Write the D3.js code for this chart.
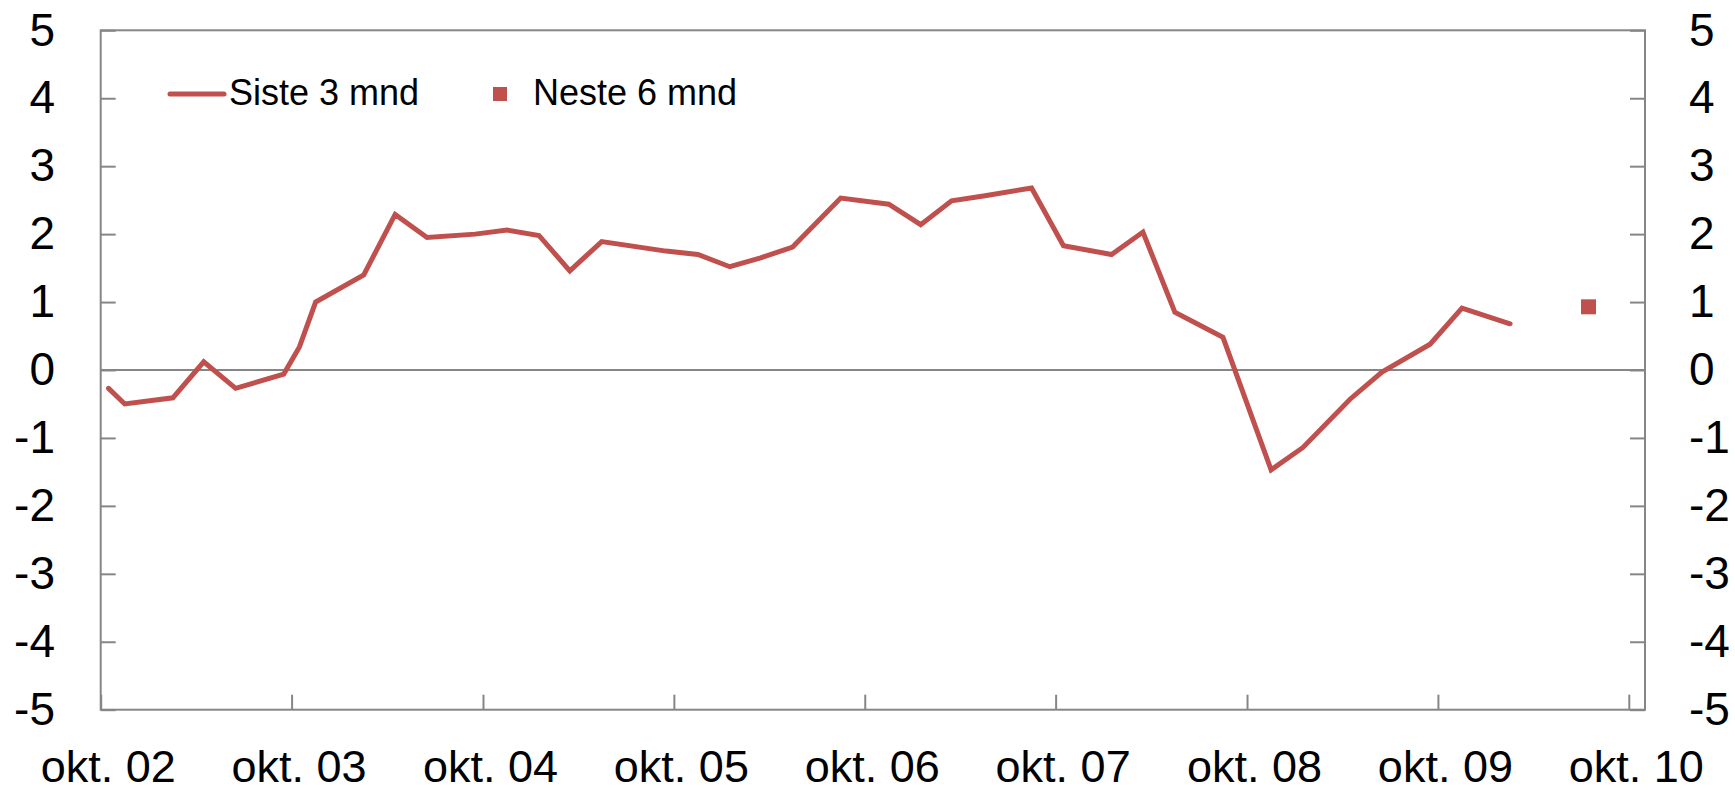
<!DOCTYPE html>
<html>
<head>
<meta charset="utf-8">
<script src="https://cdn.jsdelivr.net/npm/d3@7"></script>
<style>
  body { margin: 0; background: #fff; }
  svg { display: block; font-family: "Liberation Sans", Arial, sans-serif; }
</style>
</head>
<body>
<svg id="chart" width="1735" height="792"></svg>
<script>
// survey rounds (month) and balance for "Siste 3 mnd"
var months = ["2002-10","2002-11","2003-02","2003-04","2003-06","2003-09","2003-10","2003-11",
    "2004-02","2004-04","2004-06","2004-09","2004-11","2005-01","2005-03","2005-05",
    "2005-09","2005-11","2006-01","2006-03","2006-05","2006-08","2006-11","2007-01",
    "2007-03","2007-05","2007-08","2007-10","2008-01","2008-03","2008-05","2008-08",
    "2008-11","2009-01","2009-04","2009-06","2009-09","2009-11","2010-02"];
var siste3 = [-0.27,-0.5,-0.41,0.12,-0.27,-0.06,0.34,1.0,
    1.4,2.29,1.95,2.0,2.06,1.98,1.46,1.89,
    1.75,1.7,1.52,1.65,1.81,2.53,2.44,2.14,
    2.49,2.56,2.68,1.83,1.7,2.03,0.85,0.48,
    -1.47,-1.14,-0.43,-0.03,0.38,0.91,0.68];

// expectation "Neste 6 mnd"
var nesteMonths = ["2010-07"];
var neste6 = [0.93];

var yTicks = [-5,-4,-3,-2,-1,0,1,2,3,4,5];
var xTickYears = [2002,2003,2004,2005,2006,2007,2008,2009,2010];
var xTickLabels = ["okt. 02","okt. 03","okt. 04","okt. 05","okt. 06","okt. 07","okt. 08","okt. 09","okt. 10"];

var LINE_COLOR = "#c0504d";
var AXIS_COLOR = "#868686";

var svg = d3.select("#chart");
var plotLeft = 100.7, plotRight = 1645, plotTop = 30.3, plotBottom = 709.7;

function toDate(m) {
    var p = m.split("-");
    return new Date(+p[0], +p[1] - 1, 16);
}

var x = d3.scaleTime()
    .domain([new Date(2002, 9, 1), new Date(2010, 10, 1)])
    .range([plotLeft, plotRight]);
var y = d3.scaleLinear().domain([-5, 5]).range([plotBottom, plotTop]);

var tickDates = xTickYears.map(function (yr) { return new Date(yr, 9, 1); });
var plainNum = function (d) { return String(d); }; // hyphen, not unicode minus

// frame
svg.append("rect")
    .attr("x", plotLeft).attr("y", plotTop)
    .attr("width", plotRight - plotLeft).attr("height", plotBottom - plotTop)
    .style("fill", "none")
    .style("stroke", AXIS_COLOR)
    .style("stroke-width", 2);

// zero line
svg.append("line")
    .attr("x1", plotLeft).attr("x2", plotRight)
    .attr("y1", y(0)).attr("y2", y(0))
    .style("stroke", AXIS_COLOR)
    .style("stroke-width", 2);

var gLeft = svg.append("g")
    .attr("transform", "translate(" + plotLeft + ",0)")
    .call(d3.axisLeft(y).tickValues(yTicks).tickFormat(plainNum)
        .tickSize(-15).tickSizeOuter(0).tickPadding(45.7));

var gRight = svg.append("g")
    .attr("transform", "translate(" + plotRight + ",0)")
    .call(d3.axisRight(y).tickValues(yTicks).tickFormat(plainNum)
        .tickSize(-15).tickSizeOuter(0).tickPadding(44));

var gBottom = svg.append("g")
    .attr("transform", "translate(0," + plotBottom + ")")
    .call(d3.axisBottom(x).tickValues(tickDates).tickSize(-15).tickSizeOuter(0).tickPadding(40.3)
        .tickFormat(function (d, i) { return xTickLabels[i]; }));
gBottom.selectAll(".tick text").attr("dx", 7);

[gLeft, gRight].forEach(function (g) {
    g.selectAll(".tick text").style("font-size", "46px");
});
gBottom.selectAll(".tick text").style("font-size", "45px");

[gLeft, gRight, gBottom].forEach(function (g) {
    g.select(".domain").remove();
    g.selectAll(".tick line").style("stroke", AXIS_COLOR).style("stroke-width", 2);
    g.selectAll(".tick text")
        .style("font-family", "'Liberation Sans', Arial, sans-serif")
        .style("fill", "#000");
});

// series line
var line = d3.line()
    .x(function (d) { return x(d.date); })
    .y(function (d) { return y(d.value); });

var lineData = months.map(function (m, i) { return { date: toDate(m), value: siste3[i] }; });

svg.append("path")
    .datum(lineData)
    .attr("d", line)
    .style("fill", "none")
    .style("stroke", LINE_COLOR)
    .style("stroke-width", 5)
    .style("stroke-linejoin", "miter")
    .style("stroke-linecap", "round");

// forecast marker
var sq = 15;
svg.selectAll("rect.neste")
    .data(nesteMonths.map(function (m, i) { return { date: toDate(m), value: neste6[i] }; }))
    .enter().append("rect")
    .attr("class", "neste")
    .attr("x", function (d) { return x(d.date) - sq / 2; })
    .attr("y", function (d) { return y(d.value) - sq / 2; })
    .attr("width", sq).attr("height", sq)
    .style("fill", LINE_COLOR);

// legend
var legend = svg.append("g");
legend.append("line")
    .attr("x1", 170).attr("x2", 224).attr("y1", 94).attr("y2", 94)
    .style("stroke", LINE_COLOR).style("stroke-width", 5).style("stroke-linecap", "round");
legend.append("text")
    .attr("x", 229).attr("y", 105)
    .style("font-size", "36px")
    .text("Siste 3 mnd");
legend.append("rect")
    .attr("x", 493).attr("y", 87).attr("width", 14).attr("height", 14)
    .style("fill", LINE_COLOR);
legend.append("text")
    .attr("x", 533).attr("y", 105)
    .style("font-size", "36px")
    .text("Neste 6 mnd");
</script>
</body>
</html>
